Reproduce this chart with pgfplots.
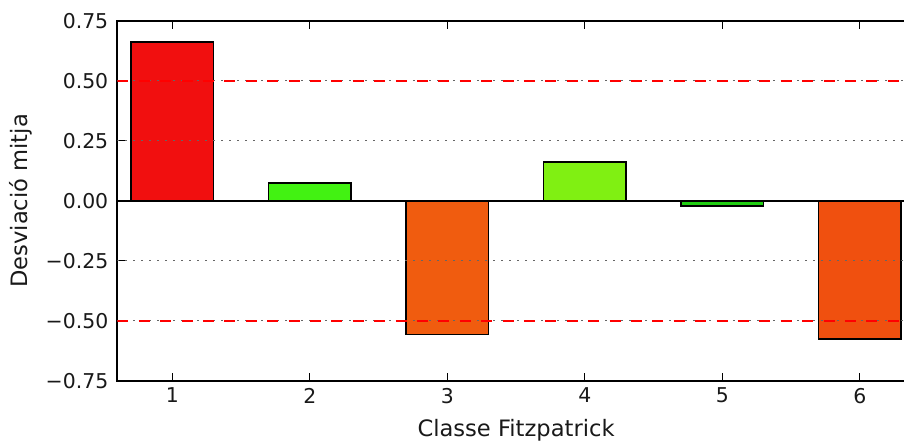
\documentclass[border=0pt]{standalone}
\usepackage{fontspec}
\setmainfont{DejaVu Sans}
\usepackage{pgfplots}
\pgfplotsset{compat=1.18}
\begin{document}
\begin{tikzpicture}
\useasboundingbox (-58.65pt,-31.5pt) rectangle (393.35pt,190.5pt);
\begin{axis}[
  at={(0,0)}, anchor=south west,
  scale only axis,
  width=398.75pt, height=180.15pt,
  xmin=0.6, xmax=6.4,
  ymin=-0.75, ymax=0.75,
  xtick={1,2,3,4,5,6},
  xticklabels={1,2,3,4,5,6},
  ytick={-0.75,-0.5,-0.25,0,0.25,0.5,0.75},
  yticklabels={−0.75,−0.50,−0.25,0.00,0.25,0.50,0.75},
  tick align=inside,
  major tick length=4pt,
  tick style={black, line width=0.5pt},
  axis line style={black, line width=0.9pt},
  tick label style={font=\fontsize{10.2}{12}\selectfont, text=black!90},
  yticklabel style={xshift=-1pt},
  xlabel={Classe Fitzpatrick},
  ylabel={Desviació mitja},
  every axis x label/.style={at={(axis description cs:0.5,-0.136)}, anchor=center, font=\fontsize{11.3}{13}\selectfont, text=black!90},
  every axis y label/.style={at={(axis description cs:-0.1205,0.5)}, rotate=90, anchor=center, font=\fontsize{11.3}{13}\selectfont, text=black!90},
  bar width=0.6,
  gridl/.style={black!60, line width=0.5pt, dash pattern=on 0.6pt off 3.4pt},
  redl/.style={red, line width=1.2pt, dash pattern=on 5.5pt off 5.2pt},
  barst/.style={ybar, bar shift=0pt, draw=black, line width=0.9pt},
]
\addplot[barst, fill={rgb,255:red,241;green,15;blue,15}] coordinates {(1,0.662)};
\addplot[barst, fill={rgb,255:red,66;green,242;blue,18}] coordinates {(2,0.073)};
\addplot[barst, fill={rgb,255:red,240;green,92;blue,15}] coordinates {(3,-0.556)};
\addplot[barst, fill={rgb,255:red,128;green,240;blue,18}] coordinates {(4,0.163)};
\addplot[barst, fill={rgb,255:red,32;green,206;blue,18}] coordinates {(5,-0.022)};
\addplot[barst, fill={rgb,255:red,240;green,80;blue,15}] coordinates {(6,-0.574)};
\addplot[gridl] coordinates {(0.6,0.25) (6.4,0.25)};
\addplot[gridl] coordinates {(0.6,-0.25) (6.4,-0.25)};
\addplot[gridl] coordinates {(0.6,0.5) (6.4,0.5)};
\addplot[gridl] coordinates {(0.6,-0.5) (6.4,-0.5)};
\addplot[redl] coordinates {(0.6,0.5) (6.4,0.5)};
\addplot[redl] coordinates {(0.6,-0.5) (6.4,-0.5)};
\addplot[black, line width=0.9pt] coordinates {(0.6,0) (6.4,0)};
\end{axis}
\end{tikzpicture}
\end{document}
